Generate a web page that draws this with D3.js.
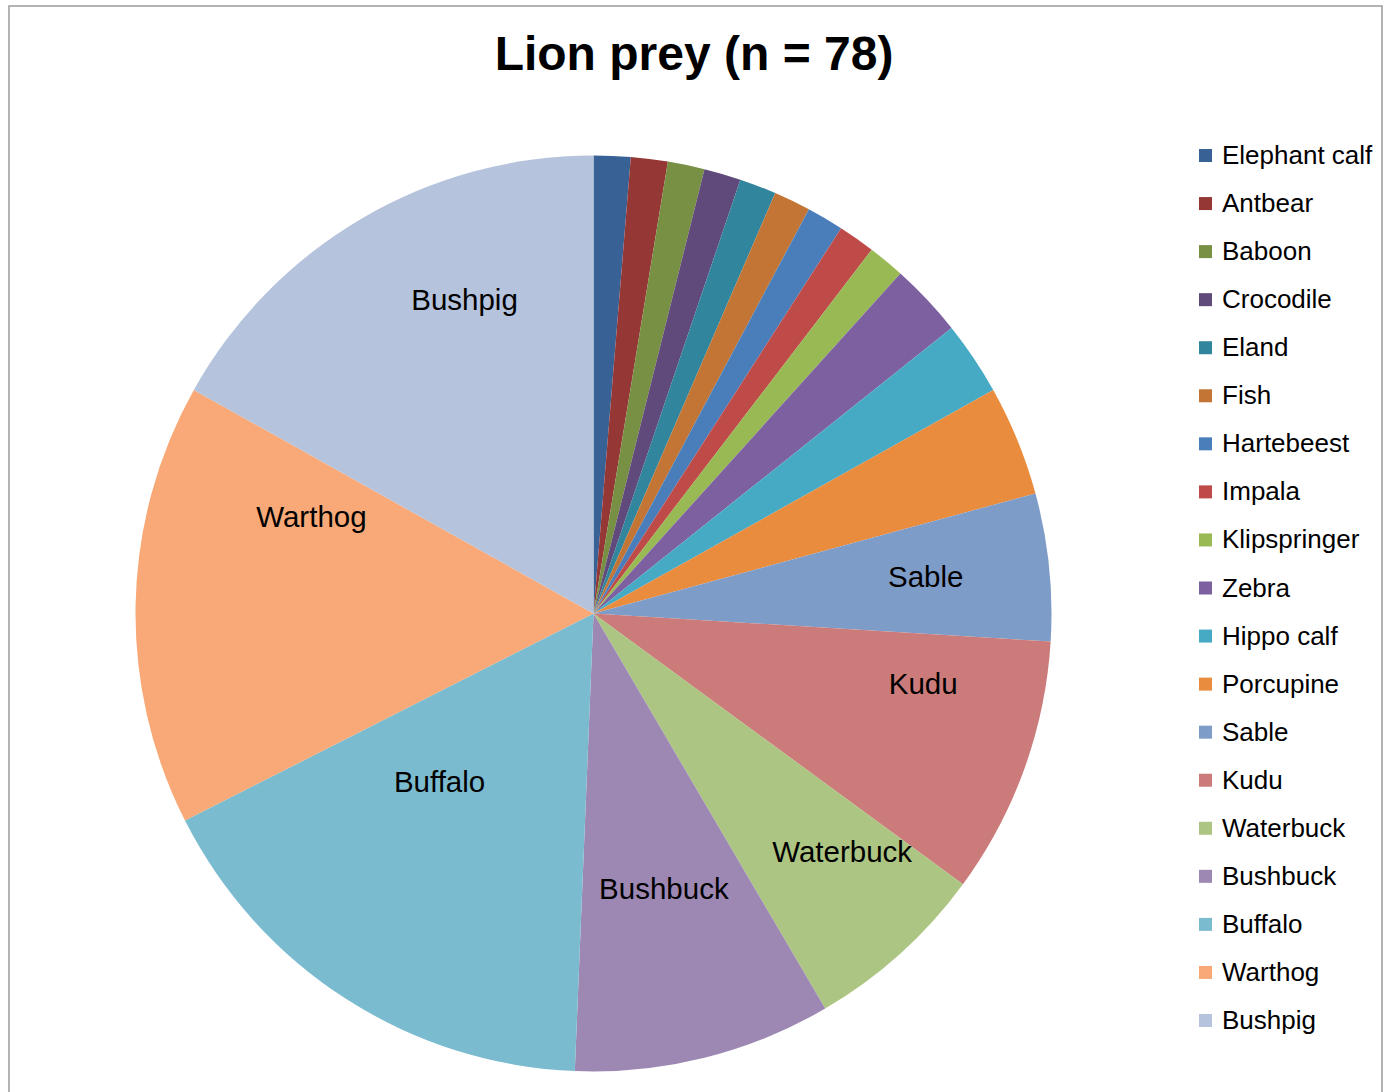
<!DOCTYPE html>
<html>
<head>
<meta charset="utf-8">
<script src="https://cdn.jsdelivr.net/npm/d3@7"></script>
<style>
  html, body { margin: 0; padding: 0; background: #fff; }
  svg { display: block; }
  text { font-family: "Liberation Sans", Arial, sans-serif; }
</style>
</head>
<body>
<svg id="chart" width="1395" height="1092"></svg>
<script>
// ---- data ----
const categories = ["Elephant calf","Antbear","Baboon","Crocodile","Eland","Fish","Hartebeest","Impala","Klipspringer","Zebra","Hippo calf","Porcupine","Sable","Kudu","Waterbuck","Bushbuck","Buffalo","Warthog","Bushpig"];
const counts = [1,1,1,1,1,1,1,1,1,2,2,3,4,7,5,7,13,12,13];
const colors = ["#386296","#953735","#779044","#604A7B","#31859C","#C27534","#4A7EBB","#BE4B48","#98B954","#7D60A0","#46AAC5","#E98C3E","#7E9CC8","#CB7B7A","#ADC582","#9D88B3","#7BBBCF","#F8A977","#B5C3DC"];
const titleText = "Lion prey (n = 78)";
const labelled = ["Sable","Kudu","Waterbuck","Bushbuck","Buffalo","Warthog","Bushpig"];

// ---- layout (not data) ----
const cx = 593.5, cy = 613.5, R = 458;
// label placement: [fraction along slice angle, fraction of radius]
const labelPlace = {
  "Sable": [0.47, 0.73], "Kudu": [0.26, 0.736], "Waterbuck": [0.32, 0.751],
  "Bushbuck": [0.49, 0.62], "Buffalo": [0.66, 0.498], "Warthog": [0.816, 0.651],
  "Bushpig": [0.633, 0.742]
};

const svg = d3.select("#chart");

// frame
svg.append("rect").attr("x", 9).attr("y", 6).attr("width", 1373).attr("height", 1100)
  .attr("fill", "none").attr("stroke", "#9a9a9a").attr("stroke-width", 1.5);

// title
svg.append("text").attr("x", 694).attr("y", 70).attr("text-anchor", "middle")
  .attr("font-size", 48).attr("font-weight", "bold").attr("fill", "#000").text(titleText);

const data = categories.map((c, i) => ({ name: c, value: counts[i], color: colors[i] }));
const pie = d3.pie().value(d => d.value).sort(null);
const arcs = pie(data);
const arc = d3.arc().innerRadius(0).outerRadius(R);

const g = svg.append("g").attr("transform", `translate(${cx},${cy})`);
g.selectAll("path").data(arcs).enter().append("path")
  .attr("d", arc).attr("fill", d => d.data.color);

g.selectAll("text.lbl").data(arcs.filter(d => labelled.includes(d.data.name))).enter()
  .append("text").attr("class", "lbl")
  .attr("transform", d => {
    const p = labelPlace[d.data.name];
    const a = d.startAngle + (d.endAngle - d.startAngle) * p[0];
    const r = R * p[1];
    return `translate(${r * Math.sin(a)},${-r * Math.cos(a)})`;
  })
  .attr("text-anchor", "middle").attr("dominant-baseline", "central")
  .attr("font-size", 29.5).attr("fill", "#000").text(d => d.data.name);

// legend
const ly = d3.scalePoint().domain(categories).range([155, 1020]);
const lg = svg.append("g");
const items = lg.selectAll("g").data(data).enter().append("g")
  .attr("transform", d => `translate(1199,${ly(d.name)})`);
items.append("rect").attr("x", 0).attr("y", -6).attr("width", 13).attr("height", 13)
  .attr("fill", d => d.color);
items.append("text").attr("x", 23).attr("y", 0).attr("dominant-baseline", "central")
  .attr("font-size", 26).attr("fill", "#000").text(d => d.name);
</script>
</body>
</html>
